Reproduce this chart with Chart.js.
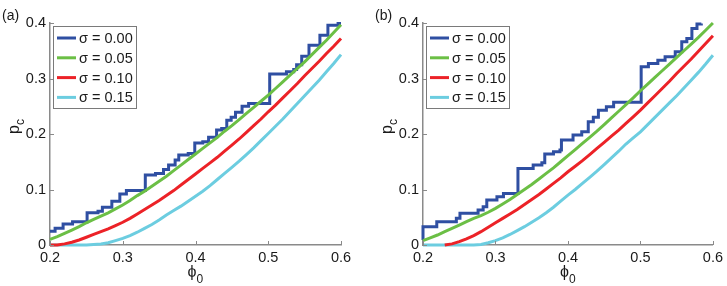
<!DOCTYPE html>
<html>
<head>
<meta charset="utf-8">
<script src="https://cdn.jsdelivr.net/npm/chart.js@4.4.1/dist/chart.umd.min.js"></script>
<style>
  body { margin: 0; background: #fff; }
  #wrap { position: relative; width: 727px; height: 286px; }
  #cA { position: absolute; left: 0; top: 0; }
  #cB { position: absolute; left: 373px; top: 0; }
</style>
</head>
<body>
<div id="wrap">
  <canvas id="cA" width="363" height="286"></canvas>
  <canvas id="cB" width="354" height="286"></canvas>
</div>
<script>
// phi_0 grid for the smooth curves
const phi = [0.20, 0.21, 0.22, 0.23, 0.24, 0.25, 0.26, 0.27, 0.28, 0.29,
             0.30, 0.31, 0.32, 0.33, 0.34, 0.35, 0.36, 0.37, 0.38, 0.39,
             0.40, 0.41, 0.42, 0.43, 0.44, 0.45, 0.46, 0.47, 0.48, 0.49,
             0.50, 0.51, 0.52, 0.53, 0.54, 0.55, 0.56, 0.57, 0.58, 0.59, 0.60];

const sigmaLabels = ['σ = 0.00', 'σ = 0.05', 'σ = 0.10', 'σ = 0.15'];
const xTicks = [0.2, 0.3, 0.4, 0.5, 0.6];
const yTicks = [0, 0.1, 0.2, 0.3, 0.4];

// panel (a)
const blueAx = [0.200, 0.207, 0.218, 0.231, 0.251, 0.266, 0.272, 0.285, 0.296, 0.305,
                0.331, 0.345, 0.356, 0.363, 0.372, 0.377, 0.390, 0.399, 0.410, 0.418,
                0.429, 0.436, 0.443, 0.449, 0.455, 0.464, 0.473, 0.502, 0.525, 0.535,
                0.539, 0.546, 0.556, 0.571, 0.582, 0.596, 0.600];
const blueAy = [0.025, 0.030, 0.038, 0.042, 0.058, 0.061, 0.068, 0.079, 0.092, 0.098,
                0.126, 0.129, 0.136, 0.144, 0.153, 0.162, 0.165, 0.184, 0.186, 0.194,
                0.207, 0.210, 0.225, 0.230, 0.239, 0.250, 0.255, 0.308, 0.312, 0.316,
                0.325, 0.340, 0.360, 0.378, 0.396, 0.399, 0.399];
const greenA = [0.010, 0.015, 0.021, 0.027, 0.033, 0.040, 0.046, 0.052, 0.058, 0.065,
                0.072, 0.080, 0.089, 0.097, 0.106, 0.115, 0.124, 0.134, 0.144, 0.154,
                0.164, 0.174, 0.184, 0.194, 0.205, 0.215, 0.226, 0.237, 0.248, 0.259,
                0.270, 0.282, 0.294, 0.306, 0.318, 0.330, 0.343, 0.356, 0.369, 0.383, 0.397];
const redA = [0.000, 0.000, 0.002, 0.005, 0.009, 0.014, 0.019, 0.024, 0.029, 0.035,
              0.041, 0.048, 0.056, 0.064, 0.072, 0.080, 0.089, 0.098, 0.108, 0.118,
              0.128, 0.138, 0.148, 0.158, 0.169, 0.180, 0.191, 0.203, 0.215, 0.227,
              0.240, 0.252, 0.265, 0.278, 0.291, 0.305, 0.318, 0.331, 0.345, 0.358, 0.372];
const cyanA = [0.000, 0.000, 0.000, 0.000, 0.000, 0.000, 0.001, 0.002, 0.004, 0.008,
               0.012, 0.017, 0.023, 0.030, 0.037, 0.045, 0.054, 0.062, 0.070, 0.079,
               0.088, 0.097, 0.107, 0.118, 0.129, 0.140, 0.151, 0.163, 0.175, 0.188,
               0.201, 0.214, 0.227, 0.241, 0.255, 0.269, 0.283, 0.297, 0.312, 0.327, 0.343];

// panel (b)
const blueBx = [0.200, 0.200, 0.219, 0.246, 0.251, 0.276, 0.283, 0.288, 0.302, 0.311,
                0.331, 0.352, 0.364, 0.368, 0.380, 0.389, 0.391, 0.407, 0.419, 0.428,
                0.435, 0.442, 0.453, 0.463, 0.501, 0.511, 0.524, 0.534, 0.548, 0.557,
                0.564, 0.571, 0.578, 0.584];
const blueBy = [0.009, 0.033, 0.042, 0.048, 0.057, 0.063, 0.069, 0.081, 0.087, 0.093,
                0.138, 0.144, 0.148, 0.164, 0.168, 0.171, 0.189, 0.198, 0.204, 0.222,
                0.230, 0.243, 0.249, 0.257, 0.321, 0.327, 0.333, 0.339, 0.348, 0.366,
                0.372, 0.390, 0.398, 0.399];
const greenB = [0.008, 0.013, 0.018, 0.024, 0.030, 0.036, 0.042, 0.048, 0.053, 0.059,
                0.066, 0.074, 0.082, 0.091, 0.100, 0.109, 0.119, 0.129, 0.139, 0.150,
                0.161, 0.172, 0.183, 0.194, 0.205, 0.217, 0.229, 0.241, 0.253, 0.265,
                0.278, 0.290, 0.302, 0.314, 0.326, 0.338, 0.350, 0.362, 0.374, 0.387, 0.400];
const redB = [null, null, null, 0.000, 0.002, 0.006, 0.011, 0.017, 0.024, 0.032,
              0.040, 0.048, 0.056, 0.064, 0.073, 0.082, 0.091, 0.101, 0.111, 0.121,
              0.132, 0.142, 0.152, 0.163, 0.174, 0.185, 0.196, 0.207, 0.219, 0.231,
              0.243, 0.256, 0.269, 0.282, 0.295, 0.309, 0.322, 0.335, 0.349, 0.363, 0.377];
const cyanB = [0.000, 0.000, 0.000, 0.000, 0.000, 0.000, 0.000, 0.000, 0.001, 0.004,
               0.008, 0.013, 0.019, 0.026, 0.033, 0.041, 0.049, 0.058, 0.068, 0.079,
               0.090, 0.100, 0.111, 0.122, 0.133, 0.145, 0.157, 0.169, 0.182, 0.193,
               0.204, 0.217, 0.230, 0.243, 0.256, 0.269, 0.283, 0.297, 0.311, 0.326, 0.342];

const colors = ['#2f4fa2', '#6bbf45', '#ec2227', '#6ccde0'];
const axisGray = '#8a8a8a';
const FONT = "'Liberation Sans', Arial, sans-serif";

function pts(xs, ys) {
  return xs.map((x, i) => ({ x: x, y: ys[i] }));
}

// legend, panel tag, axis titles and inward tick marks
const extras = {
  id: 'extras',
  afterDraw(chart, args, opts) {
    const ctx = chart.ctx;
    const ca = chart.chartArea;
    const xs = chart.scales.x, ys = chart.scales.y;
    ctx.save();

    // inward ticks
    ctx.strokeStyle = axisGray;
    ctx.lineWidth = 1;
    xTicks.forEach(v => {
      const px = Math.round(xs.getPixelForValue(v)) + 0.5;
      ctx.beginPath(); ctx.moveTo(px, ca.bottom); ctx.lineTo(px, ca.bottom - 4); ctx.stroke();
    });
    yTicks.forEach(v => {
      const py = Math.round(ys.getPixelForValue(v)) + 0.5;
      ctx.beginPath(); ctx.moveTo(ca.left, py); ctx.lineTo(ca.left + 4, py); ctx.stroke();
    });

    // legend box
    const bx = ca.left + 3, by = ca.top + 3, bw = 83, bh = 82;
    ctx.fillStyle = '#fff';
    ctx.fillRect(bx, by, bw, bh);
    ctx.strokeStyle = '#7a7a7a';
    ctx.strokeRect(bx + 0.5, by + 0.5, bw, bh);
    ctx.font = '14.5px ' + FONT;
    ctx.textBaseline = 'middle';
    ctx.textAlign = 'left';
    sigmaLabels.forEach((lab, i) => {
      const yy = by + 12 + i * 19.8;
      ctx.strokeStyle = colors[i];
      ctx.lineWidth = 3;
      ctx.beginPath(); ctx.moveTo(bx + 4, yy); ctx.lineTo(bx + 23, yy); ctx.stroke();
      ctx.fillStyle = '#1a1a1a';
      ctx.fillText(lab, bx + 26, yy + 1);
    });

    // panel tag
    ctx.fillStyle = '#1a1a1a';
    ctx.font = '14px ' + FONT;
    ctx.fillText(opts.tag, 2, 16);

    // x title: phi_0
    const cx = (ca.left + ca.right) / 2;
    ctx.textBaseline = 'alphabetic';
    ctx.font = '16px ' + FONT;
    ctx.fillText('ϕ', cx - 8, 277);
    ctx.font = '12px ' + FONT;
    ctx.fillText('0', cx + 1, 283);

    // y title: p_c
    ctx.translate(19, 134);
    ctx.rotate(-Math.PI / 2);
    ctx.font = '16px ' + FONT;
    ctx.fillText('p', 0, 0);
    ctx.font = '12px ' + FONT;
    ctx.fillText('c', 9, 5);
    ctx.restore();
  }
};

function makeChart(id, tag, bx, by, green, red, cyan, padRight) {
  return new Chart(document.getElementById(id), {
    type: 'line',
    data: {
      datasets: [
        { label: sigmaLabels[0], data: pts(bx, by), borderColor: colors[0], stepped: true, order: 1 },
        { label: sigmaLabels[1], data: pts(phi, green), borderColor: colors[1], order: 0 },
        { label: sigmaLabels[2], data: pts(phi, red), borderColor: colors[2], order: 2 },
        { label: sigmaLabels[3], data: pts(phi, cyan), borderColor: colors[3], order: 3 }
      ]
    },
    options: {
      responsive: false,
      animation: false,
      layout: { padding: { top: 23, right: padRight, left: 0, bottom: 0 } },
      elements: {
        point: { radius: 0 },
        line: { borderWidth: 3, tension: 0, borderCapStyle: 'butt' }
      },
      datasets: { line: { clip: 4 } },
      plugins: {
        legend: { display: false },
        tooltip: { enabled: false },
        extras: { tag: tag }
      },
      scales: {
        x: {
          type: 'linear', min: 0.2, max: 0.6,
          afterFit: s => { s.height = 41; },
          afterBuildTicks: s => { s.ticks = xTicks.map(v => ({ value: v })); },
          grid: { display: false, drawTicks: false },
          border: { display: true, color: axisGray, width: 1.5 },
          ticks: { padding: 4, color: '#1a1a1a', font: { family: FONT, size: 14.5 },
                   maxRotation: 0, callback: v => v.toFixed(1) }
        },
        y: {
          type: 'linear', min: 0, max: 0.4,
          afterFit: s => { s.width = 50; },
          afterBuildTicks: s => { s.ticks = yTicks.map(v => ({ value: v })); },
          grid: { display: false, drawTicks: false },
          border: { display: true, color: axisGray, width: 1.5 },
          ticks: { padding: 4, color: '#1a1a1a', font: { family: FONT, size: 14.5 },
                   callback: v => v === 0 ? '0' : v.toFixed(1) }
        }
      }
    },
    plugins: [extras]
  });
}

makeChart('cA', '(a)', blueAx, blueAy, greenA, redA, cyanA, 22);
makeChart('cB', '(b)', blueBx, blueBy, greenB, redB, cyanB, 14);
</script>
</body>
</html>
